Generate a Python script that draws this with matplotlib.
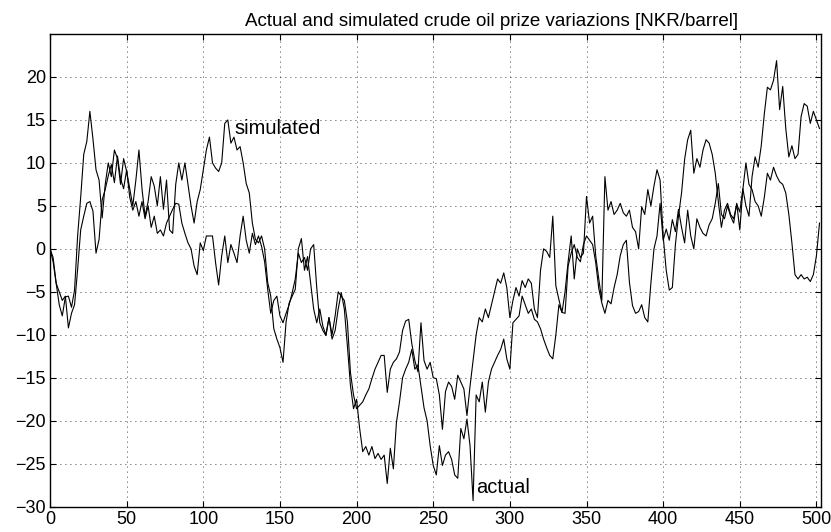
import numpy as np
import matplotlib
matplotlib.use('Agg')
import matplotlib.pyplot as plt

plt.rcParams['font.family'] = ['Liberation Sans', 'DejaVu Sans']

# values, one every 2 samples
step = 2
simulated = [
    0.0, -1.5, -4.0, -6.5, -7.8, -5.6, -5.5, -6.8, -4.8, 1.5,
    6.0, 11.0, 12.5, 16.0, 12.8, 9.2, 8.0, 3.6, 7.5, 10.0,
    8.4, 11.5, 10.5, 7.5, 10.5, 9.0, 7.0, 5.0, 8.0, 11.5,
    7.0, 3.8, 5.5, 8.4, 7.3, 5.0, 8.4, 4.6, 8.0, 2.2,
    1.8, 7.5, 10.0, 8.0, 10.0, 7.5, 5.0, 3.0, 5.5, 6.9,
    9.2, 11.5, 13.0, 10.0, 9.4, 9.0, 10.0, 14.6, 15.0, 12.3,
    13.0, 11.5, 11.9, 10.0, 7.6, 6.5, 3.0, 1.1, 0.7, 1.5,
    0.0, -3.9, -5.5, -9.3, -10.5, -11.5, -13.2, -8.5, -6.3, -5.5,
    -4.7, 0.0, 1.2, -2.5, -0.9, -4.0, -7.0, -8.6, -7.0, -9.0,
    -10.0, -8.0, -10.0, -7.8, -5.0, -5.5, -6.0, -8.5, -14.4, -17.0,
    -18.6, -18.2, -17.8, -17.0, -16.3, -15.1, -14.0, -13.2, -12.4, -12.4,
    -16.7, -14.0, -13.2, -12.8, -12.0, -9.5, -8.4, -8.2, -11.0, -13.0,
    -14.3, -8.6, -13.0, -14.0, -13.2, -15.0, -15.1, -17.0, -21.0, -16.6,
    -15.5, -16.0, -17.5, -14.7, -15.5, -16.3, -19.4, -16.0, -13.0, -10.0,
    -8.0, -8.5, -7.0, -8.0, -6.5, -5.0, -3.5, -4.0, -2.8, -4.5,
    -8.0, -6.0, -4.5, -5.5, -3.7, -4.5, -3.5, -4.0, -7.0, -8.0,
    -2.5, 0.0, -0.3, -1.0, 3.8, -4.3, -5.9, -7.4, -5.0, -1.5,
    1.5, -3.5, 0.0, -1.0, -0.5, 6.1, 3.0, 3.8, -0.8, -3.5,
    -6.0, 8.4, 4.5, 5.5, 4.0, 4.5, 5.3, 4.2, 3.8, 4.5,
    2.5, 2.0, 0.0, 4.9, 4.0, 6.9, 5.0, 7.3, 9.2, 8.0,
    1.5, -2.5, -4.8, -4.5, 0.5, 3.8, 6.5, 10.4, 12.7, 13.8,
    8.8, 10.5, 9.5, 11.5, 12.7, 12.3, 11.0, 8.8, 5.5, 2.5,
    4.5, 5.3, 4.0, 3.5, 5.2, 4.3, 7.0, 5.0, 3.8, 8.4,
    10.7, 9.5, 12.0, 15.7, 18.8, 18.5, 19.6, 21.9, 16.2, 18.9,
    14.0, 10.7, 12.0, 10.5, 11.0, 15.4, 16.9, 16.6, 14.6, 16.0,
    15.0, 14.0,
]
actual = [
    0.0, -1.0, -4.0, -5.0, -6.0, -5.5, -9.2, -7.5, -6.5, -2.4,
    2.2, 3.8, 5.3, 5.5, 4.4, -0.5, 1.1, 5.7, 6.9, 8.5,
    9.8, 7.7, 10.8, 8.2, 7.0, 9.2, 6.0, 4.5, 5.5, 3.8,
    5.5, 3.5, 5.0, 2.5, 3.8, 1.8, 2.2, 1.5, 3.0, 3.8,
    4.6, 5.3, 5.2, 3.0, 1.8, 0.7, 0.0, -2.0, -3.0, 0.7,
    -0.2, 1.5, 1.5, 1.5, -1.6, -4.2, -0.8, 1.5, -1.6, 0.5,
    -0.5, -1.6, 1.5, 3.8, 1.0, -0.5, 1.8, 0.5, 1.5, 0.3,
    -1.5, -4.7, -7.5, -6.0, -5.5, -7.8, -8.6, -7.5, -6.5, -5.1,
    -3.5, -0.5, -1.6, -1.0, -2.5, 0.0, 0.5, -4.5, -8.6, -9.5,
    -10.1, -8.0, -10.5, -9.5, -7.0, -5.1, -7.0, -11.3, -15.9, -18.6,
    -17.5, -20.9, -23.6, -23.0, -24.0, -23.0, -24.4, -23.8, -24.5, -24.0,
    -27.3, -23.2, -25.6, -20.2, -17.8, -15.0, -14.0, -13.2, -11.7, -14.0,
    -13.5, -16.0, -18.5, -20.0, -22.9, -25.2, -26.3, -22.9, -25.2, -24.0,
    -23.6, -24.5, -26.3, -26.7, -20.9, -22.1, -19.8, -22.9, -29.3, -17.0,
    -17.8, -15.5, -19.0, -15.5, -14.0, -13.2, -12.4, -11.7, -10.5, -12.8,
    -14.0, -8.6, -8.2, -7.8, -5.5, -6.5, -7.5, -7.0, -8.2, -8.5,
    -9.3, -10.5, -11.5, -12.4, -12.8, -10.0, -6.5, -7.4, -7.5, -2.0,
    -0.5, 0.5, -1.0, -1.5, 0.5, 1.5, 1.0, 0.5, -1.6, -4.6,
    -6.3, -7.5, -6.0, -6.4, -4.5, -3.0, -0.8, 0.5, 1.0, -3.9,
    -6.6, -7.5, -7.3, -6.5, -8.0, -8.5, -4.0, 0.0, 1.5, 5.3,
    1.0, 2.3, 1.0, 3.4, 2.0, 4.6, 2.5, 0.7, 4.5, 1.5,
    0.0, 3.5, 2.5, 1.8, 1.5, 2.8, 3.5, 5.3, 7.6, 4.0,
    3.5, 5.0, 3.8, 3.0, 5.3, 2.2, 6.9, 10.0, 7.5, 6.9,
    5.5, 5.0, 3.8, 6.0, 8.8, 8.0, 9.5, 8.5, 7.8, 7.5,
    6.5, 4.0, 0.7, -3.0, -3.5, -3.0, -3.5, -3.3, -3.8, -3.0,
    -0.8, 3.0,
]
x = np.arange(len(simulated)) * step

fig = plt.figure(figsize=(8.31, 5.32), dpi=100)
ax = fig.add_axes([0.0602, 0.0476, 0.9278, 0.8885])

ax.plot(x, simulated, color='black', linewidth=0.8)
ax.plot(x, actual, color='black', linewidth=0.8)

ax.text(120, 14.0, 'simulated', fontsize=14.5, va='center', ha='left')
ax.text(278, -27.8, 'actual', fontsize=14.5, va='center', ha='left')

ax.set_xlim(0, 503)
ax.set_ylim(-30, 25)
ax.set_xticks(np.arange(0, 501, 50))
ax.set_yticks(np.arange(-30, 21, 5))
ax.grid(True, color='black', linestyle=(0, (1, 5)), linewidth=0.6)
ax.tick_params(direction='in', length=4, width=0.8, labelsize=13,
               top=True, right=True, pad=3)
for sp in ax.spines.values():
    sp.set_linewidth(1.0)

ax.set_title('Actual and simulated crude oil prize variazions [NKR/barrel]',
             fontsize=13.5, pad=6, loc='right', x=0.893)

fig.savefig('out.png', dpi=100)
